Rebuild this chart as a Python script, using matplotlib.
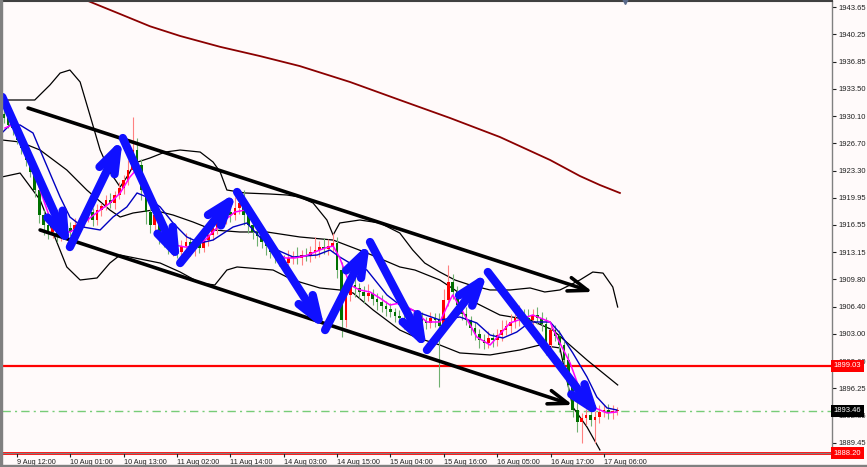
import matplotlib
matplotlib.use('Agg')
import matplotlib.pyplot as plt
import numpy as np
from matplotlib.patches import Rectangle
from matplotlib.transforms import blended_transform_factory

# ---- candles (H1 bars, index 0 = first visible bar) ----
first_open = 1930.30
close_prices = [
    1929.85, 1928.98, 1928.61, 1927.12, 1926.12, 1924.63, 1923.14, 1920.90, 1917.79, 1916.55,
    1915.68, 1916.17, 1915.18, 1915.68, 1916.17, 1915.68, 1916.55, 1916.92, 1917.42, 1918.16,
    1917.17, 1918.41, 1918.91, 1919.66, 1919.28, 1920.28, 1921.15, 1922.14, 1923.39, 1925.87,
    1924.01, 1920.90, 1918.16, 1916.55, 1917.79, 1915.30, 1914.68, 1913.69, 1914.06, 1913.19,
    1913.94, 1914.43, 1913.44, 1914.19, 1913.69, 1914.68, 1915.30, 1916.17, 1916.92, 1917.42,
    1918.16, 1917.79, 1918.66, 1919.28, 1917.79, 1916.55, 1915.68, 1915.18, 1914.43, 1913.94,
    1913.19, 1912.69, 1912.20, 1911.82, 1912.45, 1912.57, 1912.45, 1912.82, 1912.69, 1913.19,
    1913.44, 1913.81, 1913.56, 1913.94, 1914.31, 1910.95, 1904.74, 1907.85, 1909.09, 1908.72,
    1908.22, 1907.72, 1908.09, 1907.35, 1906.98, 1906.48, 1906.11, 1905.73, 1905.23, 1904.99,
    1904.49, 1904.12, 1904.74, 1904.99, 1904.61, 1904.37, 1904.99, 1904.74, 1903.99, 1907.22,
    1909.46, 1908.22, 1906.60, 1905.48, 1904.74, 1903.74, 1903.00, 1902.25, 1901.88, 1902.50,
    1902.25, 1902.87, 1903.49, 1903.99, 1904.49, 1904.99, 1905.36, 1904.99, 1904.74, 1905.36,
    1904.99, 1904.24, 1901.63, 1903.49, 1902.75, 1901.63, 1899.76, 1896.66, 1893.55, 1892.06,
    1892.55, 1892.93, 1892.31, 1892.68, 1893.30, 1893.55, 1893.18, 1893.42, 1893.46,
]
upper_wick = [
    0.5, 0.8, 0.4, 0.6, 0.3, 0.7, 0.5, 0.4, 0.9, 0.6,
    0.8, 0.5, 1.0, 0.6, 0.4, 0.7, 0.9, 0.5, 0.6, 0.8,
    0.5, 0.7, 0.4, 0.6, 0.9, 0.5, 0.7, 0.6, 1.2, 4.1,
    1.5, 0.8, 0.6, 0.9, 0.7, 0.5, 0.8, 0.6, 0.9, 0.5,
    0.7, 1.1, 0.6, 0.8, 0.5, 0.9, 0.6, 1.0, 0.7, 0.8,
    1.2, 0.6, 1.4, 0.9, 1.6, 0.7, 0.8, 1.0, 0.6, 0.9,
    0.7, 0.5, 0.8, 0.6, 1.0, 0.7, 1.2, 0.6, 0.9, 0.8,
    1.6, 0.7, 1.1, 0.9, 1.3, 0.8, 1.0, 0.7, 0.9, 1.2,
    0.6, 0.8, 1.1, 0.5, 0.7, 0.9, 0.6, 0.8, 0.5, 0.7,
    0.9, 0.6, 0.8, 1.0, 0.7, 0.5, 0.8, 0.6, 0.9, 1.4,
    2.1, 1.0, 0.7, 0.6, 0.9, 0.5, 0.8, 0.6, 0.7, 0.9,
    0.6, 0.8, 1.2, 0.7, 1.0, 0.9, 1.3, 0.8, 1.1, 0.7,
    1.0, 0.8, 0.9, 0.7, 0.6, 0.8, 0.5, 0.9, 0.7, 1.0,
    0.6, 0.8, 0.5, 0.7, 0.9, 0.6, 0.8, 0.7, 0.5,
]
lower_wick = [
    0.6, 0.4, 0.9, 0.5, 0.7, 0.8, 0.6, 0.9, 1.0, 1.3,
    0.9, 0.7, 0.8, 0.6, 0.9, 0.5, 0.7, 0.4, 0.6, 0.5,
    0.8, 0.6, 0.7, 0.5, 0.6, 0.8, 0.5, 0.7, 0.6, 0.4,
    0.9, 1.2, 1.5, 1.0, 0.8, 1.1, 0.9, 0.7, 1.0, 0.8,
    0.6, 0.9, 0.7, 0.8, 0.6, 0.5, 0.7, 0.6, 0.8, 0.5,
    0.7, 0.9, 0.6, 0.8, 1.2, 1.0, 0.9, 1.3, 0.8, 1.1,
    0.7, 0.9, 0.8, 1.0, 0.6, 0.8, 0.7, 0.9, 0.6, 0.8,
    0.7, 0.9, 0.6, 0.8, 0.7, 1.0, 2.1, 0.9, 0.8, 1.1,
    0.7, 0.9, 0.6, 0.8, 1.0, 0.7, 0.9, 0.6, 0.8, 0.7,
    0.9, 0.6, 0.8, 0.7, 1.0, 0.8, 0.6, 0.9, 7.6, 0.8,
    0.7, 0.9, 1.0, 0.8, 0.6, 0.9, 0.7, 1.0, 0.8, 0.6,
    0.9, 0.7, 0.8, 0.6, 0.9, 0.7, 1.0, 0.8, 0.6, 0.9,
    0.7, 0.9, 1.2, 0.8, 0.6, 0.9, 1.1, 1.0, 0.9, 1.2,
    2.6, 0.9, 0.8, 2.9, 0.7, 0.6, 0.8, 0.7, 0.5,
]

# ---- indicator lines: (bar, price) ----
ma_long_bar = [19.0, 26.2, 32.9, 39.7, 48.7, 57.6, 66.6, 77.9, 89.1, 100.4, 111.6, 122.9, 129.6, 134.1, 138.6]
ma_long_px = [1944.40, 1942.78, 1941.26, 1940.05, 1938.70, 1937.56, 1936.31, 1934.33, 1932.09, 1929.85,
              1927.49, 1924.63, 1922.64, 1921.52, 1920.53]

bb_up_bar = [-0.4, 3.7, 7.0, 10.4, 12.7, 14.9, 17.2, 19.4, 21.7, 23.9, 26.2, 28.0, 29.5, 32.9, 36.3, 39.7,
             44.2, 47.1, 48.7, 50.2, 54.3, 59.9, 63.7, 66.6, 69.6, 72.7, 74.1, 75.6, 80.1, 84.6, 89.1,
             92.0, 94.7, 98.1, 101.5, 104.9, 109.4, 113.9, 118.4, 121.7, 125.1, 127.4, 129.6, 132.5,
             134.8, 137.0, 138.1]
bb_up_px = [1932.09, 1932.09, 1932.09, 1933.95, 1935.44, 1935.82, 1934.33, 1930.22, 1925.87, 1923.14,
            1921.27, 1922.76, 1924.26, 1924.88, 1925.62, 1925.87, 1925.62, 1924.38, 1923.14, 1920.90,
            1920.53, 1920.40, 1920.28, 1920.03, 1919.28, 1917.17, 1915.30, 1916.80, 1917.17, 1916.80,
            1915.55, 1913.44, 1911.82, 1910.70, 1909.71, 1909.09, 1908.47, 1908.47, 1908.72, 1908.22,
            1908.47, 1909.09, 1909.71, 1910.70, 1910.57, 1908.84, 1906.35]

bb_mid_bar = [-0.4, 3.7, 8.2, 14.2, 18.7, 23.9, 26.2, 29.1, 33.6, 38.1, 42.6, 47.1, 53.1, 59.2, 66.6,
              74.1, 81.7, 89.1, 92.5, 98.1, 104.9, 111.6, 118.4, 123.5, 131.2, 138.1]
bb_mid_px = [1927.12, 1926.87, 1925.87, 1923.39, 1920.90, 1918.41, 1917.54, 1918.04, 1918.41, 1917.79,
             1916.92, 1915.93, 1915.68, 1915.68, 1915.06, 1914.68, 1913.07, 1911.33, 1910.95, 1909.71,
             1907.22, 1905.36, 1904.74, 1903.49, 1899.76, 1896.66]

bb_low_bar = [-0.4, 3.7, 8.2, 11.5, 14.2, 17.2, 21.0, 23.9, 26.2, 28.4, 35.2, 39.7, 44.2, 47.5, 50.2,
              52.5, 60.6, 63.7, 66.6, 71.1, 75.6, 78.6, 83.1, 89.1, 92.5, 98.1, 102.6, 109.4, 116.1,
              120.6, 125.1, 128.0, 131.2, 134.1]
bb_low_px = [1922.52, 1923.01, 1919.66, 1915.06, 1911.33, 1909.71, 1909.96, 1911.82, 1912.82, 1912.57,
             1911.82, 1910.70, 1909.34, 1909.09, 1910.95, 1911.33, 1910.95, 1910.08, 1909.46, 1908.72,
             1908.47, 1908.09, 1905.98, 1903.49, 1902.63, 1901.63, 1900.64, 1900.39, 1901.01, 1901.63,
             1901.26, 1893.92, 1891.43, 1888.58]

ma_fast_bar = [0.3, 1.9, 3.7, 5.9, 8.2, 10.4, 12.7, 14.9, 17.2, 19.4, 21.7, 23.9, 26.2, 28.4, 30.2, 31.8,
               34.0, 36.3, 38.5, 40.8, 43.0, 45.3, 47.5, 49.8, 52.0, 54.3, 56.5, 58.8, 61.0, 63.3, 65.5,
               67.8, 70.0, 72.3, 74.1, 75.6, 77.9, 80.1, 82.4, 84.6, 86.9, 89.1, 92.0, 95.2, 98.1, 100.4,
               101.0, 103.3, 106.4, 109.4, 113.9, 119.0, 122.9, 124.4, 127.4, 129.6, 132.5, 135.7, 137.9]
ma_fast_px = [1928.61, 1928.98, 1927.99, 1925.25, 1920.90, 1917.42, 1915.68, 1915.68, 1916.42, 1917.42,
              1918.41, 1919.28, 1920.53, 1922.52, 1923.64, 1922.14, 1918.16, 1915.30, 1914.06, 1913.81,
              1913.94, 1914.68, 1915.93, 1917.17, 1918.16, 1918.41, 1916.92, 1914.93, 1913.19, 1912.45,
              1912.45, 1912.69, 1913.19, 1913.69, 1913.94, 1912.45, 1909.09, 1908.47, 1908.22, 1907.47,
              1906.60, 1906.85, 1905.98, 1904.49, 1904.49, 1907.22, 1907.85, 1905.73, 1902.63, 1901.63,
              1904.37, 1905.36, 1904.49, 1902.63, 1899.39, 1896.04, 1893.92, 1893.18, 1893.30]

ma_slow_bar = [-0.4, 1.4, 3.7, 6.6, 8.2, 10.4, 12.7, 14.9, 17.8, 21.7, 24.6, 27.7, 30.0, 32.2, 35.2, 38.1,
               41.2, 44.2, 47.1, 51.6, 54.7, 57.6, 61.5, 65.1, 70.5, 73.4, 75.6, 78.6, 81.7, 86.2, 89.1,
               93.6, 98.1, 102.6, 106.4, 109.4, 112.3, 115.4, 118.4, 122.9, 125.1, 128.0, 131.2, 133.4,
               135.7, 137.9]
ma_slow_px = [1927.99, 1928.98, 1928.98, 1927.99, 1925.87, 1923.01, 1920.03, 1917.54, 1916.30, 1915.93,
              1917.54, 1918.79, 1920.53, 1920.03, 1918.79, 1916.80, 1915.06, 1914.31, 1914.68, 1916.30,
              1916.80, 1915.06, 1913.44, 1912.57, 1912.82, 1913.44, 1912.57, 1911.58, 1910.95, 1907.85,
              1906.60, 1905.61, 1904.74, 1905.11, 1904.37, 1902.87, 1902.50, 1903.24, 1904.49, 1904.49,
              1903.12, 1900.64, 1897.65, 1895.17, 1893.80, 1893.55]

# ---- drawn objects ----
zigzag_bar = [-0.3, 14.9, 26.8, 39.7, 52.5, 72.3, 82.4, 95.2, 108.9, 134.1]
zigzag_px = [1932.46, 1913.81, 1927.36, 1911.82, 1920.65, 1903.49, 1914.43, 1901.01, 1910.70, 1892.56]

channel_upper = [(5.5, 1931.09), (132.5, 1908.22)]
channel_lower = [(8.2, 1915.93), (128.0, 1894.17)]

resistance = 1899.03
support = 1888.20
bid = 1893.46

price_ticks = [1943.65, 1940.25, 1936.85, 1933.50, 1930.10, 1926.70, 1923.30, 1919.95, 1916.55,
               1913.15, 1909.80, 1906.40, 1903.00, 1899.60, 1896.25, 1892.85, 1889.45]
time_ticks = [3, 15, 27, 39, 51, 63, 75, 87, 99, 111, 123, 135]
time_labels = ['9 Aug 12:00', '10 Aug 01:00', '10 Aug 13:00', '11 Aug 02:00', '11 Aug 14:00',
               '14 Aug 03:00', '14 Aug 15:00', '15 Aug 04:00', '15 Aug 16:00', '16 Aug 05:00',
               '16 Aug 17:00', '17 Aug 06:00']

bg = '#fffafa'
plt.rcParams['font.family'] = ['Liberation Sans', 'DejaVu Sans']

fig = plt.figure(figsize=(8.67, 4.67), dpi=100, facecolor=bg)
ax = fig.add_axes([2 / 867, 14 / 467, 830 / 867, 452 / 467])
ax.set_facecolor(bg)
ax.set_xlim(-0.37, 186.3)
ax.set_ylim(1888.20, 1944.40)

# long MA
ax.plot(ma_long_bar, ma_long_px, color='#8b0000', lw=1.3, zorder=2)

# bollinger bands
for bx, by in [(bb_up_bar, bb_up_px), (bb_mid_bar, bb_mid_px), (bb_low_bar, bb_low_px)]:
    ax.plot(bx, by, color='black', lw=0.9, zorder=2)

# horizontal levels
ax.axhline(resistance, color='#ff0000', lw=1.6, zorder=1.5)
ax.axhline(support, color='#ff0000', lw=2.0, zorder=1.5, clip_on=False)
ax.axhline(bid, color='#77cc77', lw=1.0, ls=(0, (6, 3, 1.5, 3)), zorder=1.5)

# candles
closes = np.array(close_prices)
opens = np.r_[first_open, closes[:-1]]
highs = np.maximum(opens, closes) + np.array(upper_wick)
lows = np.minimum(opens, closes) - np.array(lower_wick)
xs = np.arange(len(closes))
bull = closes >= opens
ax.vlines(xs[bull], lows[bull], highs[bull], color='#ff8080', lw=0.8, zorder=3)
ax.vlines(xs[~bull], lows[~bull], highs[~bull], color='#70b070', lw=0.8, zorder=3)
body_col = np.where(bull, '#ff0000', '#007000')
ax.bar(xs, np.maximum(np.abs(closes - opens), 0.12), bottom=np.minimum(opens, closes),
       width=0.6, color=body_col, lw=0, zorder=3.1)

# moving averages
ax.plot(ma_slow_bar, ma_slow_px, color='#0000c0', lw=1.0, zorder=4)
ax.plot(ma_fast_bar, ma_fast_px, color='#ff00ff', lw=1.1, zorder=4.1)

# channel lines
for (x0, y0), (x1, y1) in [channel_upper, channel_lower]:
    ax.annotate('', xy=(x1, y1), xytext=(x0, y0),
                arrowprops=dict(arrowstyle='->,head_length=0.7,head_width=0.25', lw=2.6,
                                color='black', shrinkA=0, shrinkB=0, mutation_scale=20,
                                capstyle='round', joinstyle='round'), zorder=5)

# zigzag arrows
for i in range(len(zigzag_bar) - 1):
    ax.annotate('', xy=(zigzag_bar[i + 1], zigzag_px[i + 1]), xytext=(zigzag_bar[i], zigzag_px[i]),
                arrowprops=dict(arrowstyle='->,head_length=0.85,head_width=0.3', lw=6.0,
                                color='#1010ff', shrinkA=0, shrinkB=0, mutation_scale=20,
                                capstyle='round', joinstyle='round'), zorder=6)

# axes styling
ax.yaxis.tick_right()
ax.set_yticks(price_ticks)
ax.set_yticklabels(['%.2f' % p for p in price_ticks])
ax.set_xticks(time_ticks)
ax.set_xticklabels(time_labels)
for lab in ax.get_xticklabels():
    lab.set_ha('left')
ax.tick_params(axis='y', direction='out', length=3, width=0.8, pad=1.5, labelsize=5.5,
               colors='#202020')
ax.tick_params(axis='x', direction='out', length=3, width=0.8, pad=1.0, labelsize=5.2,
               colors='#202020')
ax.spines['left'].set_visible(False)
ax.spines['top'].set_color('#404040')
ax.spines['top'].set_linewidth(1.5)
ax.spines['right'].set_color('#808080')
ax.spines['right'].set_linewidth(1.0)
ax.spines['bottom'].set_color('#808080')

# price tags on the axis
tr = blended_transform_factory(ax.transAxes, ax.transData)
for val, col in [(resistance, '#ff0000'), (bid, '#000000'), (support, '#ff0000')]:
    ax.text(1.002, val, '%.2f' % val, transform=tr, fontsize=5.5, color='white', va='center',
            ha='left', zorder=10, clip_on=False,
            bbox=dict(boxstyle='square,pad=0.35', fc=col, ec='none'))

# shift marker at the top
ax.plot([0.7506], [1.0], marker='v', ms=4, color='#5a6a8a', transform=ax.transAxes,
        clip_on=False, zorder=10)

# window frame
fig.patches.append(Rectangle((0, 0), 2 / 867, 1, transform=fig.transFigure, color='#808080'))
fig.patches.append(Rectangle((0, 0), 1, 2 / 467, transform=fig.transFigure, color='#808080'))

fig.savefig('out.png', dpi=100, facecolor=bg)
